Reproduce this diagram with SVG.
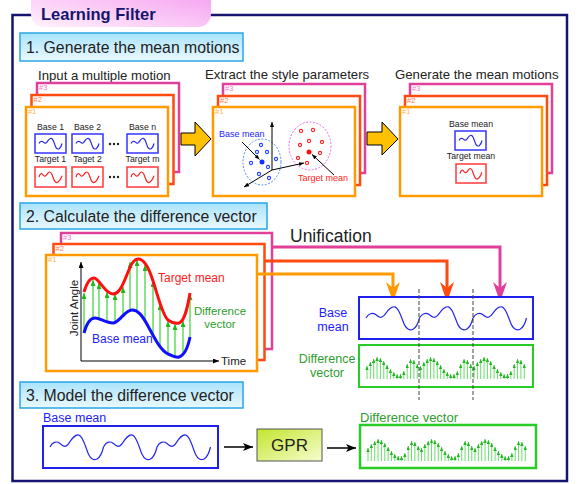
<svg xmlns="http://www.w3.org/2000/svg" width="580" height="484" viewBox="0 0 580 484">
<style>
text{font-family:"Liberation Sans",Arial,sans-serif;fill:#222}
.hdr{fill:url(#hg);stroke:#29a6e6;stroke-width:1.5}
.ht{font-size:15.8px}
.sub{font-size:13.2px}
.f3{fill:#fff;stroke:#e0409a;stroke-width:2.5}
.f2{fill:#fff;stroke:#ff4a10;stroke-width:2.5}
.f1{fill:#fff;stroke:#ff9a00;stroke-width:2.5}
.l3{font-size:7.5px;fill:#f27ccb}
.l2{font-size:7.5px;fill:#ff7a50}
.l1{font-size:7.5px;fill:#ffb54a}
.sm{font-size:8.7px;text-anchor:middle}
.bb{fill:#fff;stroke:#3434ff;stroke-width:1.5}
.rb{fill:#fff;stroke:#ff3838;stroke-width:1.5}
.wb{fill:none;stroke:#2626ee;stroke-width:1.2}
.wr{fill:none;stroke:#ff2020;stroke-width:1.2}
.blue{fill:#1c1cff}
.red{fill:#ff1c1c}
.green{fill:#2e9e2e}
.ax{stroke:#000;stroke-width:1;fill:none}
.fat{fill:#ffc000;stroke:#000;stroke-width:1}
.ga{stroke:#5fdc5f;stroke-width:1.5;fill:none;marker-end:url(#mg)}
.gs{stroke:#6ade6a;stroke-width:1;fill:none;marker-end:url(#ms)}
.bd{fill:#fff;stroke:#2040ff;stroke-width:1.1}
.rd{fill:#fff;stroke:#ff2020;stroke-width:1.1}
.dash{stroke:#444;stroke-width:1;stroke-dasharray:4 2;fill:none}
</style>
<defs>
<linearGradient id="hg" x1="0" y1="0" x2="0" y2="1"><stop offset="0" stop-color="#a9e3fb"/><stop offset="1" stop-color="#eaf9ff"/></linearGradient>
<linearGradient id="tg" x1="1" y1="0" x2="0" y2="1"><stop offset="0" stop-color="#f59aef"/><stop offset="1" stop-color="#fff2fd"/></linearGradient>
<linearGradient id="gg" x1="0" y1="0" x2="1" y2="1"><stop offset="0" stop-color="#c3e52e"/><stop offset="1" stop-color="#f6fdd0"/></linearGradient>
<marker id="mg" markerUnits="userSpaceOnUse" viewBox="0 0 6 5" markerWidth="6" markerHeight="5" refX="6" refY="2.5" orient="auto"><path d="M0,0 L6,2.5 L0,5z" fill="#1eb81e"/></marker>
<marker id="ms" markerUnits="userSpaceOnUse" viewBox="0 0 4 3.4" markerWidth="4" markerHeight="3.4" refX="4" refY="1.7" orient="auto"><path d="M0,0 L4,1.7 L0,3.4z" fill="#1eb81e"/></marker>
<marker id="mb" markerUnits="userSpaceOnUse" viewBox="0 0 6 5" markerWidth="6" markerHeight="5" refX="6" refY="2.5" orient="auto"><path d="M0,0 L6,2.5 L0,5z" fill="#000"/></marker>
<marker id="mb5" markerUnits="userSpaceOnUse" viewBox="0 0 5 4" markerWidth="5" markerHeight="4" refX="5" refY="2" orient="auto"><path d="M0,0 L5,2 L0,4z" fill="#000"/></marker>
<marker id="mk" markerUnits="userSpaceOnUse" viewBox="0 0 10 8" markerWidth="10" markerHeight="8" refX="10" refY="4" orient="auto"><path d="M0,0 L10,4 L0,8 L2.5,4z" fill="#000"/></marker>
<path id="sb" vector-effect="non-scaling-stroke" d="M0,0 C4,-10 12,-14 18,-8 C24,-2 28,2 34,-6 C40,-16 46,-28 54,-26 C62,-24 66,0 72,16 C76,26 82,30 88,26 C94,22 98,10 100,0"/>
<path id="sr" vector-effect="non-scaling-stroke" d="M0,0 C4,-18 12,-22 18,-10 C22,-2 28,-2 34,-12 C42,-28 50,-30 56,-14 C62,2 66,28 76,28 C86,28 94,12 100,-6"/>
<g id="dv">
<path class="gs" d="M1,0V-13"/><path class="gs" d="M4.35,0V-17"/><path class="gs" d="M7.7,0V-20"/><path class="gs" d="M11.05,0V-22"/>
<path class="gs" d="M14.4,0V-21"/><path class="gs" d="M17.75,0V-18"/><path class="gs" d="M21.1,0V-14"/><path class="gs" d="M24.45,0V-10"/>
<path class="gs" d="M27.8,0V-7"/><path class="gs" d="M31.15,0V-5"/><path class="gs" d="M34.5,0V-5"/><path class="gs" d="M37.85,0V-8"/>
<path class="gs" d="M41.2,0V-15"/><path class="gs" d="M44.55,0V-20"/><path class="gs" d="M47.9,0V-19"/><path class="gs" d="M51.25,0V-15"/>
</g>
</defs>

<g id="frame">
<rect x="12.5" y="15" width="554.5" height="466" fill="none" stroke="#141470" stroke-width="2.5"/>
<rect x="31" y="-12" width="180" height="39" rx="13" fill="url(#tg)"/>
<text x="41" y="20" font-size="16.5" font-weight="bold" style="fill:#15156e">Learning Filter</text>
</g>

<g id="h1"><rect class="hdr" x="20" y="33" width="223" height="28"/><text class="ht" x="26" y="53">1. Generate the mean motions</text></g>
<g id="h2"><rect class="hdr" x="20" y="203" width="247" height="26"/><text class="ht" x="26" y="222">2. Calculate the difference vector</text></g>
<g id="h3"><rect class="hdr" x="20" y="382" width="223" height="26"/><text class="ht" x="26" y="401">3. Model the difference vector</text></g>

<g id="p1">
<text class="sub" x="38" y="80">Input a multiple motion</text>
<rect class="f3" x="37" y="83" width="142" height="89"/><text class="l3" x="39" y="90">#3</text>
<rect class="f2" x="31.5" y="95" width="142" height="89"/><text class="l2" x="33.5" y="102">#2</text>
<rect class="f1" x="26" y="107" width="142" height="89"/><text class="l1" x="28" y="114">#1</text>
<text class="sm" x="50.5" y="130">Base 1</text><text class="sm" x="87.5" y="130">Base 2</text><text class="sm" x="142.5" y="130">Base n</text>
<rect class="bb" x="35" y="134" width="31" height="19"/><rect class="bb" x="72" y="134" width="31" height="19"/><rect class="bb" x="127" y="134" width="31" height="19"/>
<use href="#sb" class="wb" transform="translate(39,143.5) scale(0.23,0.2)"/>
<use href="#sb" class="wb" transform="translate(76,143.5) scale(0.23,0.2)"/>
<use href="#sb" class="wb" transform="translate(131,143.5) scale(0.23,0.2)"/>
<circle cx="110" cy="144" r="1.2" fill="#222"/><circle cx="114" cy="144" r="1.2" fill="#222"/><circle cx="118" cy="144" r="1.2" fill="#222"/>
<text class="sm" x="50.5" y="162">Target 1</text><text class="sm" x="87.5" y="162">Taget 2</text><text class="sm" x="142.5" y="162">Target m</text>
<rect class="rb" x="35" y="167" width="31" height="20"/><rect class="rb" x="72" y="167" width="31" height="20"/><rect class="rb" x="127" y="167" width="31" height="20"/>
<use href="#sr" class="wr" transform="translate(39,177) scale(0.23,0.2)"/>
<use href="#sr" class="wr" transform="translate(76,177) scale(0.23,0.2)"/>
<use href="#sr" class="wr" transform="translate(131,177) scale(0.23,0.2)"/>
<circle cx="110" cy="177" r="1.2" fill="#222"/><circle cx="114" cy="177" r="1.2" fill="#222"/><circle cx="118" cy="177" r="1.2" fill="#222"/>
</g>

<g id="p2">
<text class="sub" x="205" y="79">Extract the style parameters</text>
<rect class="f3" x="223" y="84" width="142" height="89"/><text class="l3" x="225" y="91">#3</text>
<rect class="f2" x="218" y="96" width="142" height="89"/><text class="l2" x="220" y="103">#2</text>
<rect class="f1" x="213" y="107" width="142" height="89"/><text class="l1" x="215" y="114">#1</text>
<ellipse cx="262" cy="162" rx="19" ry="23" fill="none" stroke="#4a90f0" stroke-dasharray="2 1.5"/>
<ellipse cx="310" cy="146" rx="21" ry="24" fill="none" stroke="#e86ae8" stroke-dasharray="2 1.5"/>
<path class="ax" d="M272,170 V122" marker-end="url(#mb5)"/>
<path class="ax" d="M272,170 L304,163" marker-end="url(#mb5)"/>
<path class="ax" d="M272,170 L244,187" marker-end="url(#mb5)"/>
<circle class="bd" cx="261" cy="145" r="1.6"/><circle class="bd" cx="257" cy="152" r="1.6"/><circle class="bd" cx="267" cy="152" r="1.6"/><circle class="bd" cx="251" cy="163" r="1.6"/>
<circle class="bd" cx="276" cy="159" r="1.6"/><circle class="bd" cx="268" cy="167" r="1.6"/><circle class="bd" cx="259" cy="174" r="1.6"/><circle class="bd" cx="269" cy="178" r="1.6"/>
<circle cx="262" cy="162" r="2.5" fill="#1030ff"/>
<circle class="rd" cx="301" cy="131" r="1.6"/><circle class="rd" cx="313" cy="130" r="1.6"/><circle class="rd" cx="300" cy="145" r="1.6"/><circle class="rd" cx="309" cy="141" r="1.6"/>
<circle class="rd" cx="322" cy="142" r="1.6"/><circle class="rd" cx="320" cy="153" r="1.6"/><circle class="rd" cx="298" cy="158" r="1.6"/><circle class="rd" cx="307" cy="163" r="1.6"/>
<circle cx="309" cy="152" r="2.5" fill="#ff1010"/>
<text class="blue" x="219" y="137" font-size="9">Base mean</text>
<path class="ax" d="M242,142 L259.5,159.5" marker-end="url(#mb5)"/>
<text class="red" x="298" y="181" font-size="9">Target mean</text>
<path class="ax" d="M334,175 L312,154.5" marker-end="url(#mb5)"/>
</g>

<g id="p3">
<text class="sub" x="395" y="79">Generate the mean motions</text>
<rect class="f3" x="410" y="84" width="142" height="89"/><text class="l3" x="412" y="91">#3</text>
<rect class="f2" x="405" y="96" width="142" height="89"/><text class="l2" x="407" y="103">#2</text>
<rect class="f1" x="400" y="107" width="142" height="89"/><text class="l1" x="402" y="114">#1</text>
<text class="sm" x="471" y="127">Base mean</text>
<rect class="bb" x="455" y="131" width="31" height="19"/>
<use href="#sb" class="wb" transform="translate(459,140.5) scale(0.23,0.2)"/>
<text class="sm" x="471" y="159">Target mean</text>
<rect class="rb" x="456" y="164" width="30" height="19"/>
<use href="#sr" class="wr" transform="translate(460,173.5) scale(0.22,0.2)"/>
</g>

<g id="s2stack">
<rect class="f3" x="61" y="233" width="211" height="116"/><text class="l3" x="63" y="240">#3</text>
<rect class="f2" x="53.5" y="244" width="211" height="116"/><text class="l2" x="55.5" y="251">#2</text>
<rect class="f1" x="46" y="255" width="211" height="116"/><text class="l1" x="48" y="262">#1</text>
<path class="ax" d="M81,361 V262" marker-end="url(#mb)"/>
<path class="ax" d="M81,361 H219" marker-end="url(#mb)"/>
<text x="221" y="365" font-size="11.5">Time</text>
<text transform="translate(77.5,308) rotate(-90)" font-size="11.5" text-anchor="middle">Joint Angle</text>
<path class="ga" d="M84,333V293"/><path class="ga" d="M93,318V280"/><path class="ga" d="M99,319V283"/><path class="ga" d="M107,322V292"/>
<path class="ga" d="M115,323V294"/><path class="ga" d="M123,316V287"/><path class="ga" d="M130,310V262"/><path class="ga" d="M137,310V260"/>
<path class="ga" d="M145,320V265"/><path class="ga" d="M153,334V281"/><path class="ga" d="M160,345V304"/><path class="ga" d="M168,354V321"/>
<path class="ga" d="M175,357V324"/><path class="ga" d="M183,354V321"/><path class="ga" d="M190,337V294"/>
<path d="M84,292 C87,282 90,278 94,278 C99,278 105,294 113,294 C120,294 124,282 128,272 C131,264 134,259 138,259 C143,259 148,266 152,278 C157,292 162,315 168,320 C172,323 175,324 179,323 C185,321 188,305 190,293" fill="none" stroke="#ff1010" stroke-width="3"/>
<path d="M84,333 C87,322 91,318 95,318 C100,318 106,323 113,323 C119,323 125,310 132,310 C138,310 142,315 148,326 C154,337 160,350 168,354 C173,356 176,358 179,357 C185,355 188,347 190,337" fill="none" stroke="#1010ff" stroke-width="3"/>
<text class="red" x="158" y="282" font-size="12">Target mean</text>
<text class="green" x="220" y="315" font-size="11.5" text-anchor="middle">Difference</text>
<text class="green" x="220" y="328" font-size="11.5" text-anchor="middle">vector</text>
<text class="blue" x="92" y="343" font-size="12">Base mean</text>
</g>

<g id="connectors">
<polygon class="fat" points="181,133 195,133 195,122 211,139 195,156 195,145 181,145"/>
<polygon class="fat" points="367,132 382,132 382,122 398,139 382,155 382,145 367,145"/>
<path d="M272,247 H500 V290" fill="none" stroke="#e0409a" stroke-width="3"/>
<polygon points="500,302 493,282 500,288 507,282" fill="#e0409a"/>
<path d="M265,261 H447 V290" fill="none" stroke="#ff4a10" stroke-width="3"/>
<polygon points="447,302 440,282 447,288 454,282" fill="#ff4a10"/>
<path d="M257,274 H393 V290" fill="none" stroke="#ff9a00" stroke-width="3"/>
<polygon points="393,302 386,282 393,288 400,282" fill="#ff9a00"/>
<path d="M224,447 H253" stroke="#000" stroke-width="1.5" marker-end="url(#mk)"/>
<path d="M327,448 H356" stroke="#000" stroke-width="1.5" marker-end="url(#mk)"/>
</g>
<text x="290" y="242" font-size="17.5">Unification</text>

<g id="unibase">
<text class="blue" x="333" y="317" font-size="12.5" text-anchor="middle">Base</text>
<text class="blue" x="333" y="331" font-size="12.5" text-anchor="middle">mean</text>
<rect x="359" y="297" width="174" height="42" fill="#fff" stroke="#2020ee" stroke-width="2"/>
<use href="#sb" class="wb" transform="translate(366,318) scale(0.535,0.43)"/>
<use href="#sb" class="wb" transform="translate(419.5,318) scale(0.535,0.43)"/>
<use href="#sb" class="wb" transform="translate(473,318) scale(0.535,0.43)"/>
</g>
<g id="unidiff">
<text class="green" x="327" y="363" font-size="12.5" text-anchor="middle">Difference</text>
<text class="green" x="327" y="377" font-size="12.5" text-anchor="middle">vector</text>
<rect x="359" y="345" width="174" height="42" fill="#fff" stroke="#28cc28" stroke-width="2"/>
<use href="#dv" transform="translate(366,379)"/>
<use href="#dv" transform="translate(419.5,379)"/>
<use href="#dv" transform="translate(473,379)"/>
</g>
<path class="dash" d="M419,289 V400 M473,289 V400"/>

<g id="s3base">
<text class="blue" x="43" y="422" font-size="12.5">Base mean</text>
<rect x="43" y="426" width="175" height="42" fill="#fff" stroke="#2020ee" stroke-width="2"/>
<use href="#sb" class="wb" transform="translate(50,447) scale(0.535,0.46)"/>
<use href="#sb" class="wb" transform="translate(103.5,447) scale(0.535,0.46)"/>
<use href="#sb" class="wb" transform="translate(157,447) scale(0.535,0.46)"/>
</g>
<g id="gpr">
<rect x="257" y="429" width="65" height="32" fill="url(#gg)" stroke="#555" stroke-width="1"/>
<text x="289.5" y="451" font-size="17" text-anchor="middle">GPR</text>
</g>
<g id="s3diff">
<text class="green" x="360" y="422" font-size="13">Difference vector</text>
<rect x="360" y="425" width="176" height="43" fill="#fff" stroke="#28cc28" stroke-width="2.5"/>
<use href="#dv" transform="translate(367,461)"/>
<use href="#dv" transform="translate(420.5,461)"/>
<use href="#dv" transform="translate(474,461)"/>
</g>
</svg>
